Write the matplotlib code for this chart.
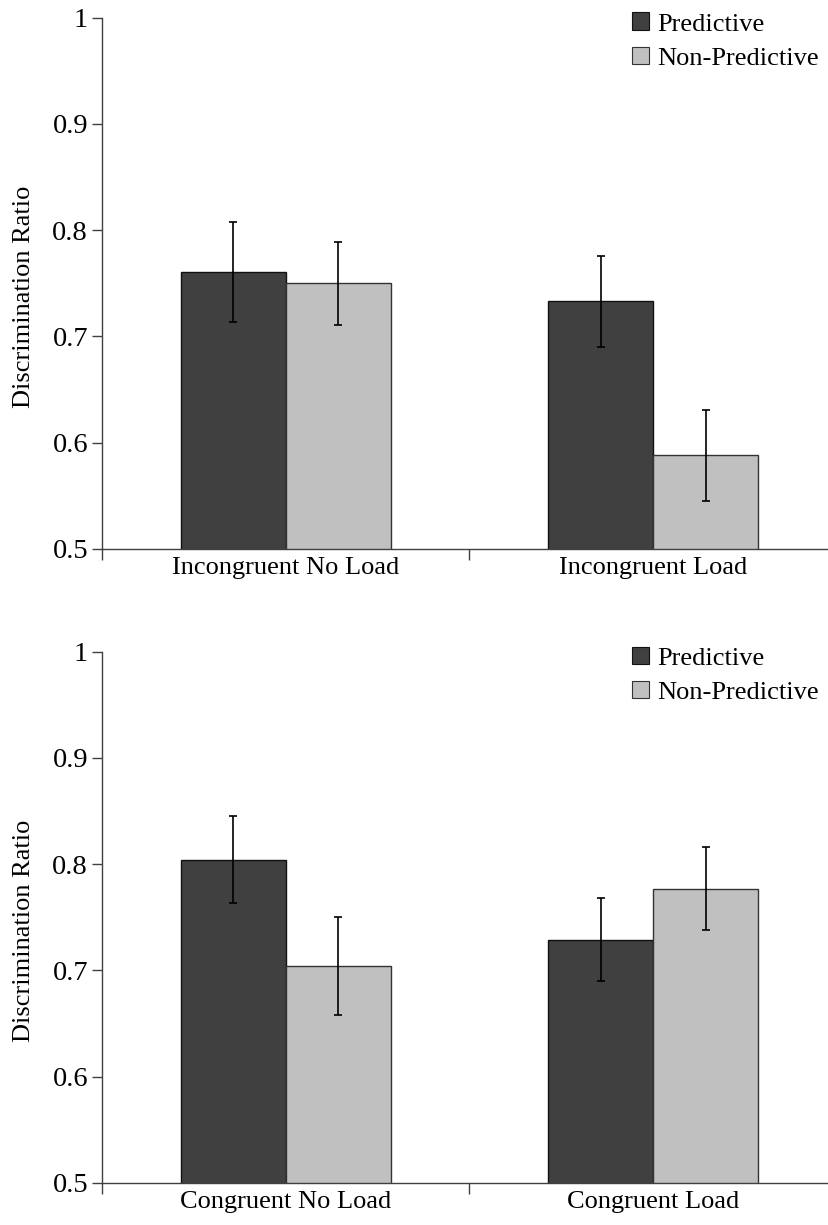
import matplotlib
matplotlib.use("Agg")
import matplotlib.pyplot as plt
import numpy as np
from matplotlib.patches import Patch

plt.rcParams['font.family'] = ['Liberation Serif', 'DejaVu Serif']

series = ["Predictive", "Non-Predictive"]
top_categories = ["Incongruent No Load", "Incongruent Load"]
top_pred = [0.761, 0.733]
top_pred_err = [0.047, 0.043]
top_nonpred = [0.750, 0.588]
top_nonpred_err = [0.039, 0.043]

bot_categories = ["Congruent No Load", "Congruent Load"]
bot_pred = [0.804, 0.729]
bot_pred_err = [0.041, 0.039]
bot_nonpred = [0.704, 0.777]
bot_nonpred_err = [0.046, 0.039]

yticks = [0.5, 0.6, 0.7, 0.8, 0.9, 1.0]
yticklabels = ["0.5", "0.6", "0.7", "0.8", "0.9", "1"]

W, H = 829, 1225
fig = plt.figure(figsize=(W / 100, H / 100), dpi=100)

dark = "#404040"
light = "#c0c0c0"
spine_col = "#404040"
AXW = 735.0


def panel(rect, cats, pred, pred_err, nonpred, nonpred_err):
    ax = fig.add_axes(rect)
    x = np.arange(len(cats))
    w = 0.286
    ax.bar(x - w / 2, pred, w, bottom=0, color=dark, edgecolor="#111111", linewidth=1.0, zorder=2)
    ax.bar(x + w / 2, nonpred, w, bottom=0, color=light, edgecolor="#333333", linewidth=1.0, zorder=2)
    ax.errorbar(x - w / 2, pred, yerr=pred_err, fmt="none", ecolor="black", elinewidth=1.2, capsize=3, capthick=1.2, zorder=3)
    ax.errorbar(x + w / 2, nonpred, yerr=nonpred_err, fmt="none", ecolor="black", elinewidth=1.2, capsize=3, capthick=1.2, zorder=3)
    ax.set_ylim(0.5, 1.0)
    ax.set_xlim(-0.5, len(cats) - 0.5)
    for s in ["top", "right"]:
        ax.spines[s].set_visible(False)
    for s in ["left", "bottom"]:
        ax.spines[s].set_color(spine_col)
        ax.spines[s].set_linewidth(1.0)
    ax.set_yticks(yticks)
    ax.set_yticklabels(yticklabels)
    ax.tick_params(axis="y", direction="out", length=7, width=1.0, color=spine_col, labelsize=20.5, pad=3)
    ax.set_xticks(x)
    ax.set_xticklabels(cats)
    ax.tick_params(axis="x", which="major", length=0, labelsize=19, pad=6)
    ax.set_xticks(np.arange(len(cats) + 1) - 0.5, minor=True)
    ax.tick_params(axis="x", which="minor", direction="out", length=8, width=1.0, color=spine_col)
    ax.set_ylabel("Discrimination Ratio", fontsize=19)
    ax.yaxis.set_label_coords(-67 / AXW, 0.5 - 14 / 531.5)
    handles = [Patch(facecolor=dark, edgecolor="#111111", linewidth=0.8),
               Patch(facecolor=light, edgecolor="#333333", linewidth=0.8)]
    ax.legend(handles, series, loc="upper right", bbox_to_anchor=((819 - 102) / AXW, 1.0 + 5 / 531.5),
              frameon=False, fontsize=19, handlelength=0.65, handleheight=0.65,
              handletextpad=0.3, labelspacing=0.42, borderaxespad=0.0, borderpad=0.0)
    return ax


ax_w = AXW / W
panel([102 / W, (H - 549) / H, ax_w, 531.5 / H], top_categories, top_pred, top_pred_err, top_nonpred, top_nonpred_err)
panel([102 / W, (H - 1183) / H, ax_w, 531.5 / H], bot_categories, bot_pred, bot_pred_err, bot_nonpred, bot_nonpred_err)

fig.savefig("out.png", dpi=100)
